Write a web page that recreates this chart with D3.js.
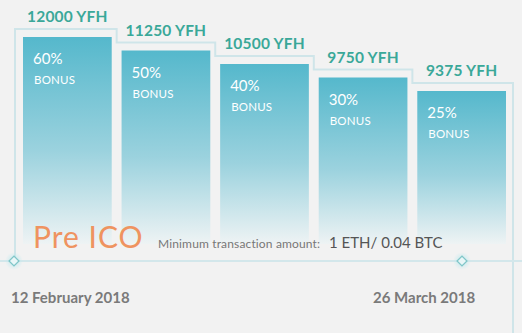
<!DOCTYPE html>
<html><head><meta charset="utf-8">
<script src="https://cdn.jsdelivr.net/npm/d3@7"></script>
<style>
html,body{margin:0;padding:0;background:#f2f2f2;}
svg{display:block;font-family:Lato, "Open Sans", sans-serif;}
</style></head>
<body><svg id="chart" width="522" height="333"></svg>
<script>
const stages = ["Stage 1","Stage 2","Stage 3","Stage 4","Stage 5"];
const prices = [12000, 11250, 10500, 9750, 9375];
const bonuses = [60, 50, 40, 30, 25];
const tierLevel = [5, 4, 3, 2, 1];
const dateLabels = ["12 February 2018", "26 March 2018"];
const title = "Pre ICO";
const minLabel = "Minimum transaction amount:";
const minValue = "1 ETH/ 0.04 BTC";

const W = 522, H = 333;
const svg = d3.select("#chart");
const baseY = 261, barBottom = 244;

const x = d3.scaleBand().domain(stages).range([23, 506]).paddingInner(0.1).paddingOuter(0);
const y = d3.scaleLinear().domain([1, 5]).range([91, 37]);

const defs = svg.append("defs");
const grad = defs.append("linearGradient").attr("id","barGrad").attr("x1",0).attr("y1",0).attr("x2",0).attr("y2",1);
grad.append("stop").attr("offset","0%").attr("stop-color","#55b8cc");
grad.append("stop").attr("offset","55%").attr("stop-color","#9bd2de");
grad.append("stop").attr("offset","100%").attr("stop-color","#eef3f4");
const glow = defs.append("radialGradient").attr("id","glow");
glow.append("stop").attr("offset","0%").attr("stop-color","#bfe9ee").attr("stop-opacity",1);
glow.append("stop").attr("offset","100%").attr("stop-color","#bfe9ee").attr("stop-opacity",0);

// bars
svg.selectAll("rect.bar").data(stages).join("rect").attr("class","bar")
  .attr("x", d => x(d)).attr("width", x.bandwidth())
  .attr("y", (d,i) => y(tierLevel[i])).attr("height", (d,i) => barBottom - y(tierLevel[i]))
  .attr("fill","url(#barGrad)");

// step outline
const bw = x.bandwidth(), gap = x.step() - bw;
const pts = [];
stages.forEach((d,i) => {
  const top = y(tierLevel[i]) - 8;
  const left = i === 0 ? x(d) - 8 : x(d) - gap/2;
  const right = i === stages.length-1 ? x(d) + bw + 7 : x(d) + bw + gap/2;
  if (i === 0) pts.push([left, baseY]);
  pts.push([left, top], [right, top]);
  if (i === stages.length-1) pts.push([right, H]);
});
svg.append("path").attr("d", d3.line()(pts)).attr("fill","none")
  .attr("stroke","#cfe5e9").attr("stroke-width",2);

// baseline
svg.append("line").attr("x1",0).attr("x2",W).attr("y1",baseY).attr("y2",baseY)
  .attr("stroke","#d3e7eb").attr("stroke-width",2);

// diamonds
[14, 462].forEach(cx => {
  svg.append("circle").attr("cx",cx).attr("cy",baseY).attr("r",9).attr("fill","url(#glow)");
  svg.append("rect").attr("x",-3.5).attr("y",-3.5).attr("width",7).attr("height",7)
    .attr("transform",`translate(${cx},${baseY}) rotate(45)`)
    .attr("fill","#e8f6f7").attr("stroke","#7fc6c8").attr("stroke-width",1.3);
});

// price labels
svg.selectAll("text.price").data(stages).join("text").attr("class","price")
  .attr("x", d => x(d) + bw/2).attr("y", (d,i) => y(tierLevel[i]) - 15)
  .attr("text-anchor","middle").attr("font-size",15.5).attr("font-weight",700)
  .attr("fill","#3aa899").attr("letter-spacing","0.2")
  .text((d,i) => prices[i] + " YFH");

// bonus labels
svg.selectAll("text.pct").data(stages).join("text").attr("class","pct")
  .attr("x", d => x(d) + 10).attr("y", (d,i) => y(tierLevel[i]) + 27)
  .attr("font-size",15).attr("fill","#ffffff")
  .text((d,i) => bonuses[i] + "%");
svg.selectAll("text.bon").data(stages).join("text").attr("class","bon")
  .attr("x", d => x(d) + 11).attr("y", (d,i) => y(tierLevel[i]) + 47)
  .attr("font-size",11.5).attr("fill","#ffffff").attr("letter-spacing","0.2")
  .text("BONUS");

// title and min amount
svg.append("text").attr("x",33).attr("y",248).attr("font-size",30).attr("fill","#ef9360")
  .attr("letter-spacing","1").text(title);
svg.append("text").attr("x",158).attr("y",248).attr("font-size",12).attr("fill","#777")
  .attr("letter-spacing","0.15").text(minLabel);
svg.append("text").attr("x",329).attr("y",248).attr("font-size",15).attr("fill","#555")
  .text(minValue);

// dates
svg.append("text").attr("x",11).attr("y",303).attr("font-size",15).attr("font-weight",700)
  .attr("fill","#7a7a7a").text(dateLabels[0]);
svg.append("text").attr("x",373).attr("y",303).attr("font-size",15).attr("font-weight",700)
  .attr("fill","#7a7a7a").text(dateLabels[1]);
</script></body></html>
